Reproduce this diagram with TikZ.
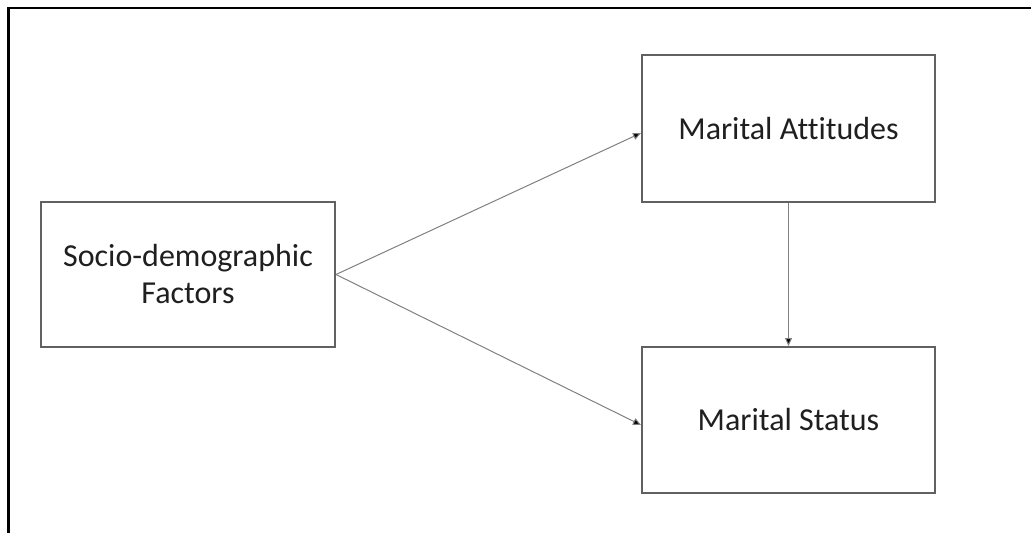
\documentclass[tikz,border=0pt]{standalone}
\usepackage{fontspec}
\setmainfont{Carlito}[Ligatures=NoCommon]
\usepackage{tikz}
\usetikzlibrary{arrows.meta}

\tikzset{
    factor/.style={draw=black!62, line width=2pt, minimum width=293pt, minimum height=146pt,
        align=center, text=black!88, font=\fontsize{32}{37}\selectfont, inner sep=0pt},
    link/.style={draw=black!50, line width=1pt, -{Triangle[length=8pt,width=7pt,fill=black]}}
}

\begin{document}
\begin{tikzpicture}[x=1pt, y=-1pt]
    \useasboundingbox (0,0) rectangle (1031,533);
    \draw[line width=2.5pt] (8.7,533) -- (8.7,7.8) -- (1031,7.8);

    \node[factor, minimum width=294pt, minimum height=145pt] (socio) at (188,274.5) {Socio-demographic\\Factors};
    \node[factor, minimum height=147pt] (attitudes) at (788.5,128.5) {Marital Attitudes};
    \node[factor] (status) at (788.5,420) {Marital Status};

    \draw[link] (socio.east) -- ([yshift=-4.5pt]attitudes.west);
    \draw[link] (socio.east) -- ([yshift=-5pt]status.west);
    \draw[link] (attitudes.south) -- (status.north);
\end{tikzpicture}
\end{document}
